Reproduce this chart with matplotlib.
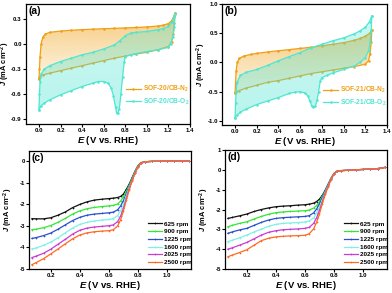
import numpy as np
import matplotlib
matplotlib.use("Agg")
import matplotlib.pyplot as plt
from matplotlib.patches import Polygon

plt.rcParams['font.family'] = ['Liberation Sans', 'DejaVu Sans']
plt.rcParams['font.weight'] = 'bold'
plt.rcParams['mathtext.fontset'] = 'custom'
plt.rcParams['mathtext.rm'] = 'Liberation Sans:bold'
plt.rcParams['mathtext.it'] = 'Liberation Sans:bold:italic'
plt.rcParams['mathtext.bf'] = 'Liberation Sans:bold'

# ---------------- data: panel (a) SOF-20/CB ----------------
a_n2_up_E = [0.0, 0.005, 0.01, 0.02, 0.035, 0.06, 0.1, 0.2, 0.3, 0.4, 0.5, 0.6, 0.7, 0.8, 0.9, 1.0, 1.1, 1.15, 1.2, 1.23, 1.25, 1.26]
a_n2_up_J = [-0.42, -0.30, -0.15, 0.0, 0.08, 0.12, 0.14, 0.155, 0.165, 0.172, 0.178, 0.183, 0.188, 0.193, 0.198, 0.205, 0.215, 0.225, 0.245, 0.28, 0.33, 0.37]
a_n2_dn_E = [1.26, 1.255, 1.245, 1.23, 1.2, 1.1, 1.0, 0.9, 0.8, 0.7, 0.6, 0.5, 0.4, 0.3, 0.2, 0.1, 0.04, 0.01, 0.0]
a_n2_dn_J = [0.37, 0.25, 0.12, 0.03, -0.03, -0.07, -0.10, -0.12, -0.145, -0.17, -0.20, -0.23, -0.26, -0.29, -0.32, -0.35, -0.37, -0.39, -0.42]
a_o2_up_E = [0.0, 0.005, 0.01, 0.02, 0.05, 0.1, 0.2, 0.3, 0.4, 0.5, 0.6, 0.7, 0.75, 0.8, 0.85, 0.9, 1.0, 1.1, 1.15, 1.2, 1.23, 1.25, 1.26]
a_o2_up_J = [-0.79, -0.6, -0.45, -0.36, -0.30, -0.26, -0.21, -0.17, -0.13, -0.10, -0.06, -0.01, 0.04, 0.10, 0.13, 0.14, 0.15, 0.17, 0.185, 0.21, 0.26, 0.32, 0.36]
a_o2_dn_E = [1.26, 1.255, 1.24, 1.22, 1.2, 1.1, 1.0, 0.9, 0.85, 0.8, 0.79, 0.775, 0.76, 0.745, 0.73, 0.72, 0.71, 0.69, 0.67, 0.64, 0.6, 0.55, 0.5, 0.4, 0.3, 0.2, 0.1, 0.05, 0.02, 0.0]
a_o2_dn_J = [0.36, 0.2, 0.08, 0.0, -0.04, -0.07, -0.09, -0.115, -0.13, -0.15, -0.22, -0.40, -0.60, -0.78, -0.83, -0.83, -0.76, -0.62, -0.53, -0.47, -0.45, -0.45, -0.47, -0.51, -0.56, -0.61, -0.67, -0.71, -0.74, -0.79]

# ---------------- data: panel (b) SOF-21/CB ----------------
b_n2_up_E = [0.0, 0.005, 0.01, 0.02, 0.04, 0.08, 0.15, 0.2, 0.3, 0.4, 0.5, 0.6, 0.7, 0.8, 0.9, 1.0, 1.1, 1.15, 1.2, 1.24, 1.26]
b_n2_up_J = [-0.52, -0.35, -0.15, 0.0, 0.07, 0.11, 0.14, 0.155, 0.18, 0.20, 0.22, 0.24, 0.26, 0.285, 0.31, 0.34, 0.38, 0.41, 0.45, 0.50, 0.55]
b_n2_dn_E = [1.26, 1.255, 1.245, 1.23, 1.2, 1.1, 1.0, 0.9, 0.8, 0.7, 0.6, 0.5, 0.4, 0.3, 0.2, 0.1, 0.04, 0.01, 0.0]
b_n2_dn_J = [0.55, 0.35, 0.15, 0.03, -0.03, -0.07, -0.10, -0.13, -0.16, -0.19, -0.23, -0.27, -0.31, -0.34, -0.39, -0.44, -0.48, -0.50, -0.52]
b_o2_up_E = [0.0, 0.005, 0.01, 0.02, 0.05, 0.1, 0.2, 0.3, 0.4, 0.5, 0.6, 0.7, 0.8, 0.9, 1.0, 1.1, 1.15, 1.2, 1.24, 1.26]
b_o2_up_J = [-0.95, -0.7, -0.5, -0.33, -0.22, -0.17, -0.12, -0.05, 0.03, 0.10, 0.17, 0.25, 0.31, 0.37, 0.42, 0.49, 0.54, 0.60, 0.70, 0.80]
b_o2_dn_E = [1.26, 1.255, 1.245, 1.23, 1.2, 1.15, 1.1, 1.0, 0.9, 0.85, 0.8, 0.785, 0.77, 0.755, 0.74, 0.72, 0.705, 0.69, 0.67, 0.64, 0.6, 0.55, 0.5, 0.4, 0.3, 0.2, 0.1, 0.05, 0.02, 0.0]
b_o2_dn_J = [0.80, 0.55, 0.35, 0.20, 0.08, 0.0, -0.06, -0.12, -0.18, -0.22, -0.26, -0.32, -0.50, -0.65, -0.75, -0.77, -0.74, -0.66, -0.57, -0.52, -0.50, -0.51, -0.53, -0.60, -0.66, -0.72, -0.80, -0.85, -0.90, -0.95]

# ---------------- data: panels (c), (d) LSV ----------------
lsv_E = [0.07, 0.10, 0.15, 0.20, 0.25, 0.30, 0.35, 0.40, 0.45, 0.50, 0.55, 0.60, 0.63, 0.66, 0.68, 0.70,
         0.72, 0.74, 0.76, 0.78, 0.80, 0.82, 0.85, 0.90, 0.95, 1.00, 1.05, 1.10, 1.15]
rpm_labels = ['625 rpm', '900 rpm', '1225 rpm', '1600 rpm', '2025 rpm', '2500 rpm']
tail_c = [-0.02, 0.0, 0.0, 0.01, 0.01, 0.02, 0.02]
c_625 = [-2.66, -2.67, -2.67, -2.62, -2.50, -2.35, -2.15, -2.00, -1.88, -1.80, -1.76, -1.73, -1.71, -1.68, -1.63, -1.52, -1.30, -1.05, -0.75, -0.45, -0.20, -0.06] + tail_c
c_900 = [-3.17, -3.15, -3.08, -2.98, -2.83, -2.65, -2.45, -2.30, -2.20, -2.14, -2.10, -2.07, -2.05, -1.98, -1.85, -1.65, -1.38, -1.10, -0.78, -0.47, -0.21, -0.07] + tail_c
c_1225 = [-3.58, -3.54, -3.45, -3.33, -3.15, -2.95, -2.75, -2.60, -2.50, -2.45, -2.42, -2.39, -2.36, -2.25, -2.08, -1.82, -1.50, -1.15, -0.82, -0.50, -0.23, -0.08] + tail_c
c_1600 = [-4.07, -4.02, -3.90, -3.75, -3.55, -3.32, -3.10, -2.93, -2.83, -2.77, -2.73, -2.70, -2.66, -2.52, -2.30, -2.00, -1.60, -1.20, -0.85, -0.52, -0.24, -0.08] + tail_c
c_2025 = [-4.47, -4.40, -4.27, -4.08, -3.85, -3.62, -3.38, -3.20, -3.10, -3.05, -3.02, -2.99, -2.95, -2.80, -2.55, -2.18, -1.72, -1.27, -0.88, -0.54, -0.25, -0.08] + tail_c
c_2500 = [-4.80, -4.70, -4.52, -4.30, -4.07, -3.83, -3.60, -3.42, -3.32, -3.27, -3.24, -3.22, -3.18, -3.00, -2.72, -2.30, -1.80, -1.32, -0.90, -0.55, -0.26, -0.09] + tail_c

tail_d = [-0.04, -0.02, 0.0, 0.02, 0.04, 0.06, 0.12]
d_625 = [-2.45, -2.40, -2.32, -2.23, -2.10, -2.00, -1.92, -1.86, -1.83, -1.81, -1.78, -1.76, -1.73, -1.68, -1.60, -1.48, -1.28, -1.02, -0.72, -0.42, -0.18, -0.07] + tail_d
d_900 = [-2.87, -2.80, -2.70, -2.62, -2.48, -2.35, -2.24, -2.16, -2.12, -2.10, -2.08, -2.06, -2.03, -1.93, -1.80, -1.60, -1.33, -1.05, -0.74, -0.43, -0.19, -0.07] + tail_d
d_1225 = [-3.20, -3.13, -3.03, -2.95, -2.80, -2.65, -2.53, -2.45, -2.41, -2.39, -2.37, -2.35, -2.31, -2.17, -1.98, -1.72, -1.40, -1.08, -0.76, -0.44, -0.19, -0.07] + tail_d
d_1600 = [-3.62, -3.55, -3.43, -3.29, -3.13, -2.99, -2.85, -2.75, -2.70, -2.68, -2.66, -2.63, -2.58, -2.42, -2.18, -1.88, -1.50, -1.13, -0.79, -0.46, -0.20, -0.08] + tail_d
d_2025 = [-4.00, -3.93, -3.80, -3.66, -3.48, -3.29, -3.15, -3.07, -3.02, -3.00, -2.98, -2.95, -2.90, -2.70, -2.42, -2.05, -1.60, -1.18, -0.82, -0.47, -0.20, -0.08] + tail_d
d_2500 = [-4.38, -4.30, -4.17, -4.03, -3.80, -3.57, -3.45, -3.38, -3.35, -3.33, -3.32, -3.30, -3.22, -2.98, -2.65, -2.22, -1.70, -1.24, -0.85, -0.49, -0.21, -0.08] + tail_d

cv_xticks = [0.0, 0.2, 0.4, 0.6, 0.8, 1.0, 1.2, 1.4]
a_yticks = [-0.9, -0.6, -0.3, 0.0, 0.3]
b_yticks = [-1.0, -0.5, 0.0, 0.5, 1.0]
lsv_xticks = [0.2, 0.4, 0.6, 0.8, 1.0]
c_yticks = [-5, -4, -3, -2, -1, 0]
d_yticks = [-5, -4, -3, -2, -1, 0, 1]

# ---------------- styles ----------------
C_N2 = '#f0a014'
C_O2 = '#4fe6d2'
lsv_colors = ['#111111', '#33e633', '#2a4fd0', '#7ff0e6', '#c83ccf', '#ff6a22']

W, H = 392, 293
fig = plt.figure(figsize=(W / 100, H / 100), dpi=100)


def add_ax(l, r, t, b):
    return fig.add_axes([l / W, 1 - b / H, (r - l) / W, (b - t) / H])


def style(ax, label, ylab_x):
    for s in ax.spines.values():
        s.set_linewidth(0.9)
    ax.tick_params(direction='out', length=2, width=0.8, labelsize=4.4, pad=1.0)
    for t in ax.get_xticklabels() + ax.get_yticklabels():
        t.set_fontweight('bold')
    ax.set_xlabel(r'$E$ (V vs. RHE)', fontsize=6.8, fontweight='bold', labelpad=0.5)
    ax.set_ylabel(r'$J$ (mA cm$^{-2}$)', fontsize=5.4, fontweight='bold')
    ax.yaxis.set_label_coords(ylab_x, 0.5)
    ax.text(0.015, 0.985, label, transform=ax.transAxes, fontsize=7.5,
            fontweight='bold', va='top', ha='left')


def grad_fill(ax, xs, ys, color, a_top, a_bot, zorder):
    poly = Polygon(np.column_stack([xs, ys]), closed=True, facecolor='none', edgecolor='none')
    ax.add_patch(poly)
    rgb = matplotlib.colors.to_rgb(color)
    n = 64
    img = np.zeros((n, 2, 4))
    img[..., :3] = rgb
    img[..., 3] = np.linspace(a_top, a_bot, n)[:, None]
    ymin, ymax = min(ys), max(ys)
    im = ax.imshow(img, extent=[min(xs), max(xs), ymin, ymax], origin='upper',
                   aspect='auto', zorder=zorder, interpolation='bilinear')
    im.set_clip_path(poly)


def cv_panel(ax, n2u, n2d, o2u, o2d, lab_n2, lab_o2, ylim, yticks, label, ylab_x):
    n2x = list(n2u[0]) + list(n2d[0])
    n2y = list(n2u[1]) + list(n2d[1])
    o2x = list(o2u[0]) + list(o2d[0])
    o2y = list(o2u[1]) + list(o2d[1])
    grad_fill(ax, n2x, n2y, C_N2, 0.55, 0.12, 1)
    ax.plot(n2x, n2y, color=C_N2, lw=0.9, marker='.', ms=1.6, zorder=2, label=lab_n2)
    grad_fill(ax, o2x, o2y, C_O2, 0.30, 0.40, 3)
    ax.plot(o2x, o2y, color=C_O2, lw=0.9, marker='.', ms=1.6, zorder=4, label=lab_o2)
    ax.set_xlim(-0.12, 1.4)
    ax.set_ylim(*ylim)
    ax.set_xticks(cv_xticks)
    ax.set_xticklabels([f'{v:.1f}' for v in cv_xticks])
    ax.set_yticks(yticks)
    ax.set_yticklabels([f'{v:.1f}' for v in yticks])
    style(ax, label, ylab_x)
    leg = ax.legend(loc='lower right', bbox_to_anchor=(1.02, 0.11), frameon=False,
                    fontsize=4.8, handlelength=2.2, handletextpad=0.3, labelspacing=0.35,
                    borderaxespad=0.2)
    for txt, c in zip(leg.get_texts(), [C_N2, C_O2]):
        txt.set_color(c)
        txt.set_fontweight('bold')


def lsv_panel(ax, series, ylim, yticks, label, ylab_x):
    for ys, c, lab in zip(series, lsv_colors, rpm_labels):
        ax.plot(lsv_E, ys, color=c, lw=0.9, marker='+', ms=1.8, mew=0.5, label=lab)
    ax.set_xlim(0.05, 1.165)
    ax.set_ylim(*ylim)
    ax.set_xticks(lsv_xticks)
    ax.set_xticklabels([f'{v:.1f}' for v in lsv_xticks])
    ax.set_yticks(yticks)
    ax.set_yticklabels([f'{v:d}' for v in yticks])
    style(ax, label, ylab_x)
    leg = ax.legend(loc='lower right', bbox_to_anchor=(1.03, 0.0), frameon=False,
                    fontsize=4.6, handlelength=2.2, handletextpad=0.3, labelspacing=0.35,
                    borderaxespad=0.2)
    for txt in leg.get_texts():
        txt.set_fontweight('bold')


ax_a = add_ax(26, 190, 4, 124)
cv_panel(ax_a, (a_n2_up_E, a_n2_up_J), (a_n2_dn_E, a_n2_dn_J),
         (a_o2_up_E, a_o2_up_J), (a_o2_dn_E, a_o2_dn_J),
         'SOF-20/CB-N$_2$', 'SOF-20/CB-O$_2$', (-0.96, 0.48), a_yticks, '(a)', -0.085)

ax_b = add_ax(222, 387, 4, 125)
cv_panel(ax_b, (b_n2_up_E, b_n2_up_J), (b_n2_dn_E, b_n2_dn_J),
         (b_o2_up_E, b_o2_up_J), (b_o2_dn_E, b_o2_dn_J),
         'SOF-21/CB-N$_2$', 'SOF-21/CB-O$_2$', (-1.07, 1.0), b_yticks, '(b)', -0.085)

ax_c = add_ax(29, 191, 151, 269)
lsv_panel(ax_c, [c_625, c_900, c_1225, c_1600, c_2025, c_2500], (-5, 0.48), c_yticks, '(c)', -0.085)

ax_d = add_ax(225, 387, 150, 269)
lsv_panel(ax_d, [d_625, d_900, d_1225, d_1600, d_2025, d_2500], (-5, 1.0), d_yticks, '(d)', -0.085)

fig.savefig('out.png', dpi=100)
